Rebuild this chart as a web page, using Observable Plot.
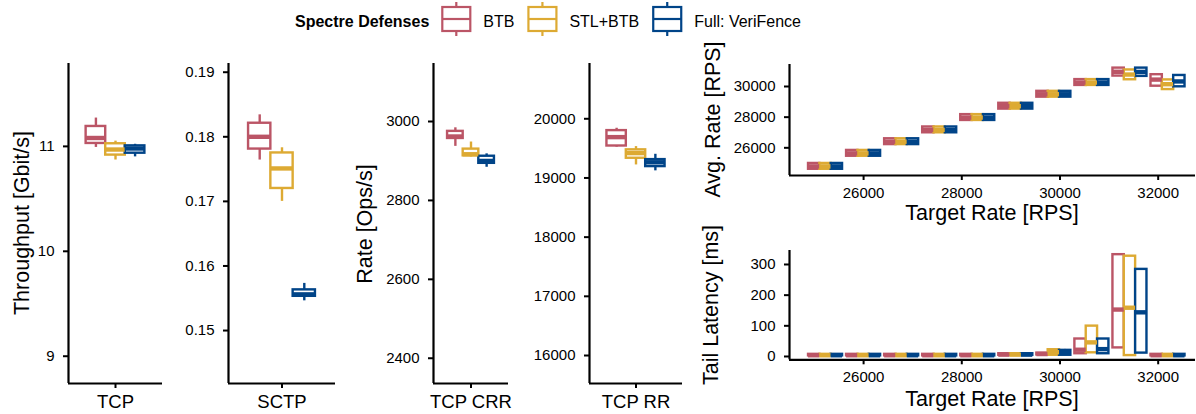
<!DOCTYPE html>
<html><head><meta charset="utf-8">
<script src="https://cdn.jsdelivr.net/npm/d3@7"></script>
<script src="https://cdn.jsdelivr.net/npm/@observablehq/plot@0.6"></script>
<style>
body{margin:0;background:white;}
#chart{position:relative;width:1196px;height:414px;overflow:hidden;font-family:"Liberation Sans",Arial,sans-serif;background:white;}
#chart svg{position:absolute;}
</style></head><body><div id="chart"></div>
<script>
const defenses = ["BTB", "STL+BTB", "Full: VeriFence"];
const defenseColors = ["#BB5566", "#DDAA33", "#004488"];

// box statistics: [lower whisker, q1, median, q3, upper whisker], one per defense
const tcpThroughput = [[10.99, 11.028, 11.08, 11.19, 11.27], [10.87, 10.917, 10.97, 11.025, 11.05], [10.90, 10.935, 10.98, 11.005, 11.02]];
const sctpThroughput = [[0.1764, 0.1781, 0.1800, 0.1821, 0.1834], [0.1700, 0.1720, 0.1751, 0.1775, 0.1783], [0.1546, 0.1553, 0.1556, 0.1563, 0.1573]];
const tcpCrrRate = [[2937, 2957, 2962, 2975, 2984], [2910, 2913, 2917, 2930, 2948], [2884, 2894, 2900, 2912, 2918]];
const tcpRrRate = [[19520, 19540, 19690, 19800, 19840], [19220, 19333, 19420, 19475, 19530], [19120, 19192, 19265, 19310, 19400]];

const benchTcp = ["TCP"], benchSctp = ["SCTP"], benchCrr = ["TCP CRR"], benchRr = ["TCP RR"];
const throughputTicks = [9, 10, 11];
const sctpTicks = [0.15, 0.16, 0.17, 0.18, 0.19];
const crrTicks = [2400, 2600, 2800, 3000];
const rrTicks = [16000, 17000, 18000, 19000, 20000];

const targetRates = [25225, 26000, 26775, 27550, 28325, 29100, 29875, 30650, 31425, 32200];
const targetTicks = [26000, 28000, 30000, 32000];
const avgRateTicks = [26000, 28000, 30000];
const latencyTicks = [0, 100, 200, 300];

const avgRateBTB = [[24590,24600,24790,24980,24990],[25440,25450,25640,25830,25840],[26200,26210,26400,26590,26600],[26970,26980,27170,27360,27370],[27775,27785,27975,28165,28175],[28515,28525,28715,28905,28915],[29295,29305,29495,29685,29695],[30060,30070,30260,30450,30460],[30660,30680,30960,31200,31220],[29990,30020,30450,30770,30800]];
const avgRateSTL = [[24590,24600,24790,24980,24990],[25440,25450,25640,25830,25840],[26200,26210,26400,26590,26600],[26970,26980,27170,27360,27370],[27775,27785,27975,28165,28175],[28515,28525,28715,28905,28915],[29295,29305,29495,29685,29695],[30060,30070,30260,30450,30460],[30420,30440,30780,31080,31110],[29780,29800,30150,30430,30450]];
const avgRateFull = [[24590,24600,24790,24980,24990],[25440,25450,25640,25830,25840],[26200,26210,26400,26590,26600],[26970,26980,27170,27360,27370],[27775,27785,27975,28165,28175],[28515,28525,28715,28905,28915],[29295,29305,29495,29685,29695],[30060,30070,30260,30450,30460],[30640,30660,30950,31200,31220],[29950,29980,30330,30720,30760]];

const latencyBTB = [[2,2,4,7,7],[2,2,4,7,7],[2,2,4,7,7],[2,2,4,7,7],[2,2,4,7,7],[3,4,6,9,9],[4,5,8,11,12],[8,9,22,57,58],[27,28,153,332,333],[2,2,4,7,7]];
const latencySTL = [[2,2,4,7,7],[2,2,4,7,7],[2,2,4,7,7],[2,2,4,7,7],[2,2,4,7,7],[3,4,6,9,9],[3,4,14,22,24],[10,12,46,99,101],[2,3,159,327,328],[2,2,4,7,7]];
const latencyFull = [[2,2,4,7,7],[2,2,4,7,7],[2,2,4,7,7],[2,2,4,7,7],[2,2,4,7,7],[3,4,6,9,9],[3,4,12,20,23],[8,9,24,57,58],[10,11,144,284,285],[2,2,4,7,7]];

const chart = document.getElementById("chart");
const FONT = '"Liberation Sans", Arial, sans-serif';

function makeRows(centers, perDefense, step) {
  const rows = [];
  perDefense.forEach((stats, k) => {
    centers.forEach((c, i) => {
      const [lo, q1, med, q3, hi] = stats[i];
      rows.push({def: defenses[k], x: c + (k - 1) * step, x1: c + (k - 1.5) * step, x2: c + (k - 0.5) * step, lo, q1, med, q3, hi});
    });
  });
  return rows;
}

function panel({frame, xDomain, yDomain, yTicks, xTicks, xFormat, yFormat, rows, xFont, xPad}) {
  const [x0, x1, y0, y1] = frame;
  const mL = 76, mR = 12, mT = 12, mB = 36;
  const svg = Plot.plot({
    width: x1 - x0 + mL + mR, height: y1 - y0 + mT + mB,
    marginLeft: mL, marginRight: mR, marginTop: mT, marginBottom: mB,
    style: {background: "transparent", overflow: "visible", fontFamily: FONT, color: "black"},
    x: {domain: xDomain},
    y: {domain: yDomain},
    color: {domain: defenses, range: defenseColors},
    marks: [
      Plot.ruleX(rows, {x: "x", y1: "lo", y2: "hi", stroke: "def", strokeWidth: 2.4}),
      Plot.rect(rows, {x1: "x1", x2: "x2", y1: "q1", y2: "q3", fill: "white", stroke: "def", strokeWidth: 2.4}),
      Plot.ruleY(rows, {y: "med", x1: "x1", x2: "x2", stroke: "def", strokeWidth: 4.4}),
      Plot.axisY({ticks: yTicks, tickFormat: yFormat, tickSize: 5, tickPadding: 9, fontSize: 15, strokeWidth: 2, label: null}),
      Plot.axisX({ticks: xTicks, tickFormat: xFormat, tickSize: 5, tickPadding: xPad, fontSize: xFont, strokeWidth: 2, label: null}),
      Plot.ruleX([xDomain[0]], {strokeWidth: 2.2}),
      Plot.ruleY([yDomain[0]], {strokeWidth: 2.2})
    ]
  });
  svg.style.left = (x0 - mL) + "px";
  svg.style.top = (y0 - mT) + "px";
  chart.append(svg);
}

const single = (stats) => stats.map(s => [s]);
const fmtD = d3.format("d");

panel({frame: [68, 162, 63, 383], xDomain: [-0.6, 0.6], yDomain: [8.74, 11.79], yTicks: throughputTicks, yFormat: d => d,
  xTicks: [0], xFormat: () => benchTcp[0], rows: makeRows([0], single(tcpThroughput), 0.25), xFont: 18.5, xPad: 6});
panel({frame: [228, 335, 63, 383], xDomain: [-0.6, 0.6], yDomain: [0.1418, 0.19135], yTicks: sctpTicks, yFormat: d3.format(".2f"),
  xTicks: [0], xFormat: () => benchSctp[0], rows: makeRows([0], single(sctpThroughput), 0.25), xFont: 18.5, xPad: 6});
panel({frame: [433, 508, 63, 383], xDomain: [-0.6, 0.6], yDomain: [2336, 3147], yTicks: crrTicks, yFormat: fmtD,
  xTicks: [0], xFormat: () => benchCrr[0], rows: makeRows([0], single(tcpCrrRate), 0.25), xFont: 18.5, xPad: 6});
panel({frame: [589, 682, 63, 383], xDomain: [-0.6, 0.6], yDomain: [15527, 20934], yTicks: rrTicks, yFormat: fmtD,
  xTicks: [0], xFormat: () => benchRr[0], rows: makeRows([0], single(tcpRrRate), 0.25), xFont: 18.5, xPad: 6});

panel({frame: [789, 1195, 64, 175], xDomain: [24491, 32760], yDomain: [24194, 31435], yTicks: avgRateTicks, yFormat: fmtD,
  xTicks: targetTicks, xFormat: fmtD, rows: makeRows(targetRates, [avgRateBTB, avgRateSTL, avgRateFull], 231), xFont: 15, xPad: 7});
panel({frame: [789, 1195, 250, 359.3], xDomain: [24491, 32760], yDomain: [-10.8, 345.6], yTicks: latencyTicks, yFormat: fmtD,
  xTicks: targetTicks, xFormat: fmtD, rows: makeRows(targetRates, [latencyBTB, latencySTL, latencyFull], 231), xFont: 15, xPad: 7});

// titles and legend overlay
const over = d3.select(chart).append("svg").attr("width", 1196).attr("height", 414)
  .style("left", "0px").style("top", "0px").style("font-family", FONT).style("pointer-events", "none");
const titles = [
  {t: "Throughput [Gbit/s]", x: 28.5, y: 223, r: -90},
  {t: "Rate [Ops/s]", x: 372, y: 224, r: -90},
  {t: "Avg. Rate [RPS]", x: 720, y: 119.5, r: -90},
  {t: "Tail Latency [ms]", x: 718, y: 305, r: -90},
  {t: "Target Rate [RPS]", x: 992, y: 220, r: 0},
  {t: "Target Rate [RPS]", x: 992, y: 406, r: 0}
];
over.selectAll("text.title").data(titles).join("text").attr("class", "title")
  .attr("transform", d => `translate(${d.x},${d.y}) rotate(${d.r})`)
  .attr("text-anchor", "middle").attr("font-size", 21.5).attr("fill", "black").text(d => d.t);

const leg = over.append("g");
let lx = 295;
const lt = leg.append("text").attr("x", lx).attr("y", 27).attr("font-size", 16).attr("font-weight", "bold").attr("fill", "black").text("Spectre Defenses");
lx += lt.node().getComputedTextLength() + 13;
defenses.forEach((name, k) => {
  const c = defenseColors[k];
  const g = leg.append("g");
  g.append("line").attr("x1", lx + 14).attr("x2", lx + 14).attr("y1", 2).attr("y2", 36).attr("stroke", c).attr("stroke-width", 2.2);
  g.append("rect").attr("x", lx).attr("y", 7).attr("width", 28).attr("height", 24).attr("fill", "white").attr("stroke", c).attr("stroke-width", 2.2);
  g.append("line").attr("x1", lx).attr("x2", lx + 28).attr("y1", 19).attr("y2", 19).attr("stroke", c).attr("stroke-width", 2.2);
  const tx = g.append("text").attr("x", lx + 41).attr("y", 27).attr("font-size", 16).attr("fill", "black").text(name);
  lx += 41 + tx.node().getComputedTextLength() + 14;
});
</script></body></html>
